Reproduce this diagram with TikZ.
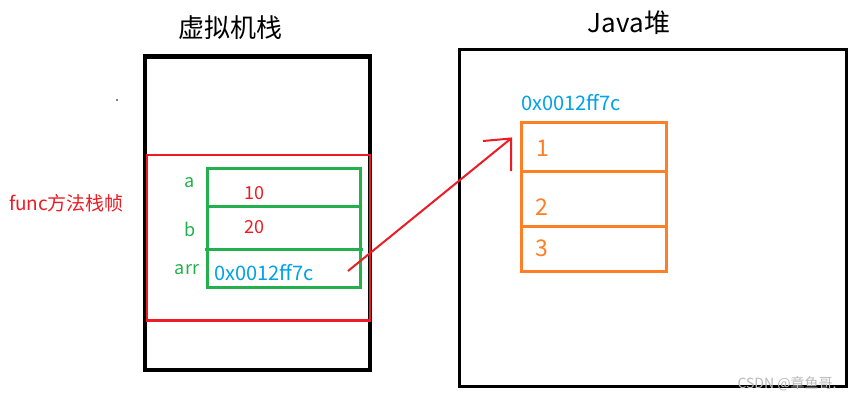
\documentclass[tikz,border=0pt]{standalone}
\usepackage{fontspec}
\setmainfont{Noto Sans CJK SC}
\definecolor{pred}{RGB}{237,28,36}
\definecolor{pgreen}{RGB}{34,177,76}
\definecolor{pblue}{RGB}{0,162,232}
\definecolor{porange}{RGB}{255,127,39}
\definecolor{wgray}{RGB}{185,185,185}
\tikzset{
  box/.style={draw, inner sep=0pt, outer sep=0pt},
  cellg/.style={box, draw=pgreen, line width=3pt, minimum width=153pt},
  cello/.style={box, draw=porange, line width=3pt, minimum width=144.5pt},
  txt/.style={inner sep=0pt, font=\fontsize{18}{20}\selectfont},
  hex/.style={inner sep=0pt, text=pblue, font=\fontsize{20}{22}\selectfont},
  title/.style={inner sep=0pt, font=\fontsize{26}{30}\selectfont},
}
\begin{document}
\begin{tikzpicture}[x=1pt,y=-1pt]
\useasboundingbox[fill=white] (0,0) rectangle (861,402);
% titles
\node[title] (t1) at (230,28) {虚拟机栈};
\node[title] (t2) at (629,23) {Java堆};
% stack
\node[box, line width=4.5pt, minimum width=225pt, minimum height=313.5pt] (stack) at (257.5,213.25) {};
\node[box, draw=pred, line width=2.8pt, minimum width=223pt, minimum height=165.5pt] (frame) at (258.5,237.75) {};
\node[cellg, minimum height=38pt] (ca) at (284,187) {};
\node[cellg, minimum height=43pt] (cb) at (284,227.5) {};
\node[cellg, minimum height=38pt] (carr) at (284,268) {};
\coordinate (ml) at (205,249);
\coordinate (mr) at (362.5,249);
\draw[pgreen, line width=3pt] (ml) -- (mr);
\node[txt, text=pred, font=\fontsize{19}{21}\selectfont] (func) at (66.5,203) {func方法栈帧};
\node[txt, text=pgreen] (la) at (190,183) {a};
\node[txt, text=pgreen] (lb) at (190,229) {b};
\node[txt, text=pgreen] (larr) at (187,270) {arr};
\node[txt, text=pred] (v10) at (254,193) {10};
\node[txt, text=pred] (v20) at (254,227) {20};
\node[hex] (varr) at (264,273) {0x0012ff7c};
\fill (117,100) circle (0.8pt);
% heap
\node[box, line width=3pt, minimum width=387pt, minimum height=337pt] (heap) at (652.5,218) {};
\node[hex] (addr) at (571,103) {0x0012ff7c};
\node[cello, minimum height=48.6pt] (c1) at (593.75,147) {};
\node[cello, minimum height=55.4pt] (c2) at (593.75,199) {};
\node[cello, minimum height=44.6pt] (c3) at (593.75,249) {};
\node[txt, text=porange, font=\fontsize{23}{25}\selectfont] (n1) at (543,148) {1};
\node[txt, text=porange, font=\fontsize{23}{25}\selectfont] (n2) at (542,207) {2};
\node[txt, text=porange, font=\fontsize{23}{25}\selectfont] (n3) at (542,248) {3};
% arrow
\coordinate (as) at (348,271);
\coordinate (tip) at (511,138.5);
\coordinate (hl) at (483,141);
\coordinate (hv) at (511,171);
\draw[pred, line width=2pt] (as) -- (tip);
\draw[pred, line width=2pt] (hl) -- (tip) -- (hv);
% watermark
\node[inner sep=0pt, text=wgray, font=\fontsize{14}{16}\selectfont] (wm) at (787,384) {CSDN @章鱼哥.};
\end{tikzpicture}
\end{document}
